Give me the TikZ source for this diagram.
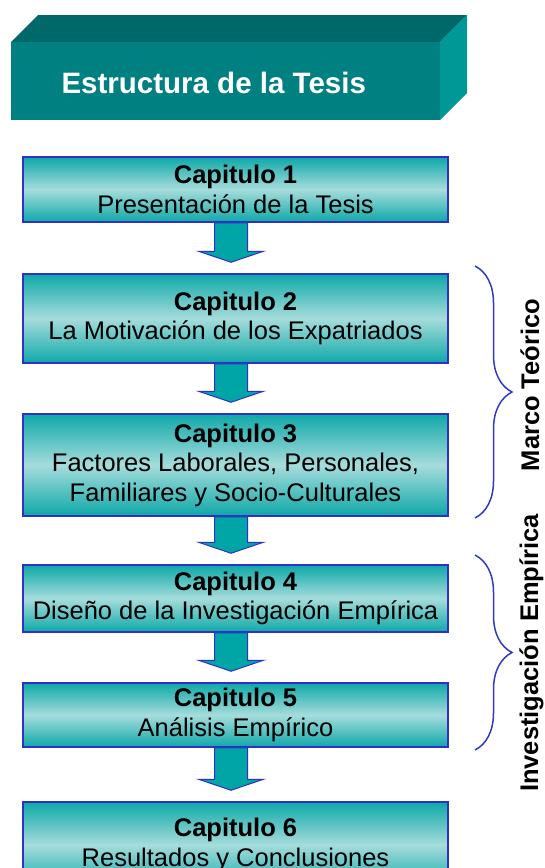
\documentclass[tikz,border=0pt]{standalone}
\usepackage{fontspec}
\setmainfont{Liberation Sans}
\usetikzlibrary{calc}
\usetikzlibrary{decorations.pathreplacing}
\definecolor{tealtop}{RGB}{0,104,104}
\definecolor{tealfront}{RGB}{0,128,128}
\definecolor{tealside}{RGB}{0,151,151}
\definecolor{boxdark}{RGB}{14,168,168}
\definecolor{boxlight}{RGB}{166,220,220}
\definecolor{boxline}{RGB}{48,48,200}
\definecolor{arrowfill}{RGB}{0,166,166}
\definecolor{bracecol}{RGB}{48,58,196}
\tikzstyle{capbox} = [draw=boxline, line width=1.5pt, top color=boxdark, bottom color=boxdark, middle color=boxlight, minimum width=425pt, inner sep=0pt, align=center, font=\fontsize{25.5}{29.5}\selectfont]
\tikzstyle{arrowbox} = [draw=boxline, line width=1pt, fill=arrowfill]
\tikzstyle{bracket} = [draw=bracecol, line width=1.5pt, decorate, decoration={brace, amplitude=37pt}]
\tikzstyle{sidelabel} = [rotate=90, anchor=base, inner sep=0pt, font=\fontsize{25.5}{29.5}\selectfont\bfseries]

\begin{document}
\begin{tikzpicture} [x=1pt, y=-1pt]

						\useasboundingbox (0,0) rectangle (544,868);
						\clip (0,0) rectangle (544,868);

						\fill[tealtop] (11,42) -- (38,15) -- (467,15) -- (440,42) -- cycle;
						\fill[tealside] (440,42) -- (467,15) -- (467,93) -- (440,120) -- cycle;
						\fill[tealfront] (11,42) rectangle (440,120);
						\node[anchor=base west, text=white, font=\fontsize{29.5}{34}\selectfont\bfseries] (T) at (58,93) {Estructura de la Tesis};

						\node[capbox, minimum height=65pt] (C1) at (235.5,189.5) {\textbf{Capitulo 1}\\Presentación de la Tesis};
						\node[capbox, minimum height=89pt] (C2) at (235.5,318.5) {\textbf{Capitulo 2}\\La Motivación de los Expatriados};
						\node[capbox, minimum height=102pt] (C3) at (235.5,465) {\textbf{Capitulo 3}\\Factores Laborales, Personales,\\Familiares y Socio-Culturales};
						\node[capbox, minimum height=67pt] (C4) at (235.5,598.5) {\textbf{Capitulo 4}\\Diseño de la Investigación Empírica};
						\node[capbox, minimum height=64pt] (C5) at (235.5,715) {\textbf{Capitulo 5}\\Análisis Empírico};
						\node[capbox, minimum height=86pt] (C6) at (235.5,845) {\textbf{Capitulo 6}\\Resultados y Conclusiones};

						\foreach \a/\b in {C1/C2, C2/C3, C3/C4, C4/C5, C5/C6}
							\draw[arrowbox] ($(\a.south)+(-21,0)$) -- ($(\a.south)+(12,0)$) -- ($(\b.north)+(12,-22)$) -- ($(\b.north)+(28,-22)$) -- ($(\b.north)+(-4.5,-11)$) -- ($(\b.north)+(-37,-22)$) -- ($(\b.north)+(-21,-22)$) -- cycle;

						\coordinate (M1) at (475,266);
						\coordinate (M2) at (475,518);
						\coordinate (I1) at (475,555);
						\coordinate (I2) at (475,750);

						\draw[bracket] (M1) -- (M2);
						\draw[bracket] (I1) -- (I2);

						\node[sidelabel] (M3) at (539,385) {Marco Teórico};
						\node[sidelabel] (I3) at (538,653) {Investigación Empírica};

					\end{tikzpicture}
\end{document}
